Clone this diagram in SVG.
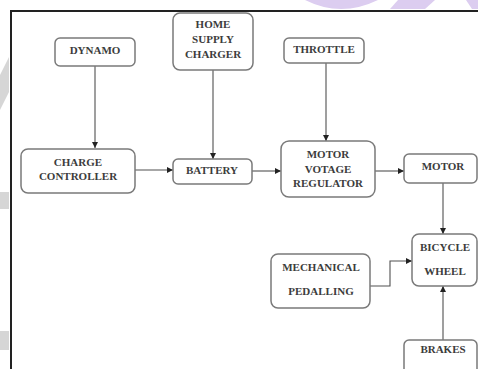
<svg xmlns="http://www.w3.org/2000/svg" width="478" height="369" viewBox="0 0 478 369">
<style>
.box{fill:#fff;stroke:#7a7a7a;stroke-width:1.5}
.t{font-family:"Liberation Serif",serif;font-weight:bold;font-size:11px;fill:#3c3c3c;text-anchor:middle}
.c{fill:none;stroke:#505050;stroke-width:1.1}
</style>
<defs>
<marker id="ah" markerWidth="7" markerHeight="6" refX="6" refY="3" orient="auto" markerUnits="userSpaceOnUse">
<path d="M0,0 L6,3 L0,6 z" fill="#222"/>
</marker>
</defs>
<rect width="478" height="369" fill="#fff"/>
<g id="watermark" fill="#dccdf0">
<path d="M305,0 Q341,18 378,0 z"/>
<path d="M398,0 L435,0 L425,9 L390,9 z"/>
<path d="M466,0 L478,0 L478,9 L472,9 z"/>
<path d="M0,75 L9,57 L9,92 L0,110 z" fill="#d6d6d6"/>
<rect x="0" y="192" width="9" height="17" fill="#d6d6d6"/>
<rect x="0" y="331" width="9" height="19" fill="#d6d6d6"/>
</g>
<path d="M11,369 V11 H478" fill="none" stroke="#222" stroke-width="2"/>
<g id="connectors">
<path class="c" d="M95,66 V148" marker-end="url(#ah)"/>
<path class="c" d="M213,70 V159" marker-end="url(#ah)"/>
<path class="c" d="M135,170 H173" marker-end="url(#ah)"/>
<path class="c" d="M326,63 V141" marker-end="url(#ah)"/>
<path class="c" d="M252,171 H281" marker-end="url(#ah)"/>
<path class="c" d="M375,171 H404" marker-end="url(#ah)"/>
<path class="c" d="M443,183 V234" marker-end="url(#ah)"/>
<path class="c" d="M370,286 H390 V261 H412" marker-end="url(#ah)"/>
<path class="c" d="M443,340 V286" marker-end="url(#ah)"/>
</g>
<g id="dynamo"><rect class="box" x="55" y="38" width="80" height="28" rx="5"/><text class="t" x="95" y="54">DYNAMO</text></g>
<g id="home-supply-charger"><rect class="box" x="173" y="13" width="80" height="57" rx="7"/><text class="t" x="213" y="28">HOME</text><text class="t" x="213" y="43">SUPPLY</text><text class="t" x="213" y="58">CHARGER</text></g>
<g id="throttle"><rect class="box" x="284" y="38" width="80" height="25" rx="5"/><text class="t" x="324" y="53">THROTTLE</text></g>
<g id="charge-controller"><rect class="box" x="21" y="149" width="114" height="44" rx="7"/><text class="t" x="78" y="166">CHARGE</text><text class="t" x="78" y="180">CONTROLLER</text></g>
<g id="battery"><rect class="box" x="173" y="159" width="79" height="25" rx="5"/><text class="t" x="212" y="174">BATTERY</text></g>
<g id="motor-voltage-regulator"><rect class="box" x="281" y="141" width="94" height="56" rx="8"/><text class="t" x="328" y="158">MOTOR</text><text class="t" x="328" y="173">VOTAGE</text><text class="t" x="328" y="187">REGULATOR</text></g>
<g id="motor"><rect class="box" x="404" y="154" width="73" height="29" rx="5"/><text class="t" x="443" y="170">MOTOR</text></g>
<g id="bicycle-wheel"><rect class="box" x="412" y="234" width="65" height="52" rx="7"/><text class="t" x="445" y="251">BICYCLE</text><text class="t" x="445" y="275">WHEEL</text></g>
<g id="mechanical-pedalling"><rect class="box" x="271" y="254" width="99" height="54" rx="7"/><text class="t" x="321" y="271">MECHANICAL</text><text class="t" x="321" y="295">PEDALLING</text></g>
<g id="brakes"><rect class="box" x="404" y="340" width="73" height="35" rx="5"/><text class="t" x="443" y="353">BRAKES</text></g>
</svg>
